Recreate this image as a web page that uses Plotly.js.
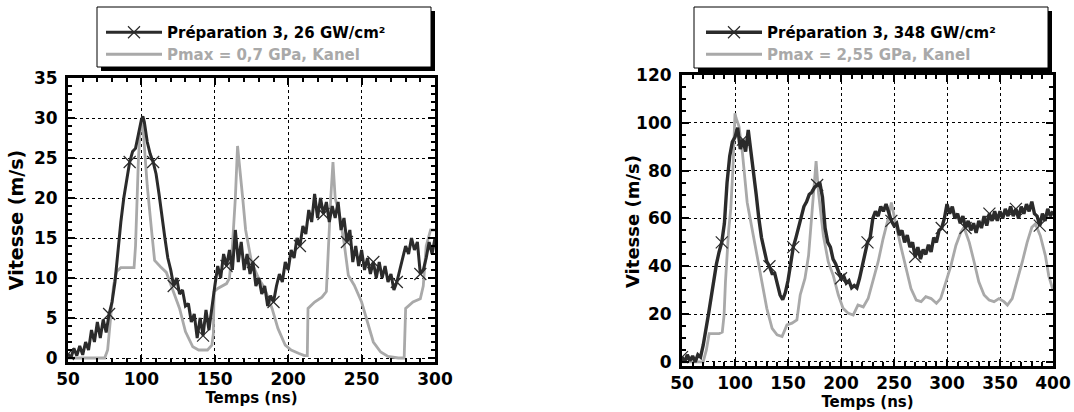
<!DOCTYPE html>
<html>
<head>
<meta charset="utf-8">
<script src="https://cdn.plot.ly/plotly-3.0.1.min.js"></script>
<style>
html,body{margin:0;padding:0;background:#fff;}
#chart{width:1074px;height:412px;}
</style>
</head>
<body>
<div id="chart"></div>
<script>
// ---------- Left panel: Préparation 3, 26 GW/cm² ----------
const leftExpX = [50,52,54,56,58,60,62,64,66,68,70,72,74,76,78,80,82,84,86,88,90,92,94,96,98,100,101,102,104,106,108,110,112,114,116,118,120,122,124,126,128,130,132,134,136,138,140,142,144,146,148,150,152,154,156,158,160,162,164,166,168,170,172,174,176,178,180,182,184,186,188,190,192,194,196,198,200,202,204,206,208,210,212,214,216,218,220,222,224,226,228,230,232,234,236,238,240,242,244,246,248,250,252,254,256,258,260,262,264,266,268,270,272,274,276,278,280,282,284,286,288,290,292,294,296,298,300];
const leftExpY = [0.5,0,1.2,0.3,1.5,0.4,2,1,3.5,2,4.5,2.5,4.8,3.2,5.5,7,9.5,13.5,17,20,22.5,24.5,25.8,26.2,28,29.8,30.2,29.5,27,25.5,24.5,23,20.5,17.5,15,12.5,11,9,10,8,8.5,6.5,6.8,4.5,5.5,2.5,5,2.8,6,3.5,6.5,9,11.5,10,13,11.5,13.5,11,16,12,14.5,11,13,10.5,12,9,10,8,9,6.5,7.8,7,9,10.5,9.5,12,11,13.5,12.5,15,14,16.5,15.5,18.5,17,20.5,17.5,20,18,19.5,17,19,17.5,19.5,16,17.5,14.5,16,12,14,11.5,13.5,11,12.5,10.5,12,10,12,10,11.5,9.5,10.5,8.5,9.5,11,12.5,14,13,15,13.5,14.5,10.5,11,12.5,14.5,13,15];
const leftMarkX = [50,78,92,108,122,142,158,176,190,208,224,240,258,274,290];

const leftKanelX = [50,60,70,75,77,79,81,83,86,90,95,96,97,98,99,100,101,102,104,107,109,113,117,121,126,130,135,139,145,148,149,149.5,152,158,160,162,164,165.5,167,169,171,175,180,184,189,193,198,202,207,211,213,213.5,218,223,226,227,229,230.5,232,235,238,241,245,250,254,258,263,268,275,279,280,285,290,292,294,297,300];
const leftKanelY = [0,0,0,0,1,5,9,10.8,11.3,11.3,11.3,14,20,25,28,29.5,29,26,21.5,15.8,12.2,11.4,10.7,8.7,6.2,3.3,1.4,1,1,1.6,3,8.3,8.7,9.3,10,14,20,26.5,24,20,16,12,9.9,8.7,6.2,3.7,1.6,1,0.6,0.3,0.3,6.2,7,7.6,8.3,13,20,24.5,20,17.8,14.5,10.3,9.1,7,4.5,2,0.75,0.2,0,0,6.2,7,7.4,9,14,16,16];

// ---------- Right panel: Préparation 3, 348 GW/cm² ----------
const rightExpX = [50,52.5,55,57.5,60,62.5,65,67.5,70,72.5,75,77.5,80,82.5,85,87.5,90,92.5,95,97.5,100,102.5,105,107.5,110,112.5,115,117.5,120,122.5,125,127.5,130,132.5,135,137.5,140,142.5,145,147.5,150,152.5,155,157.5,160,162.5,165,167.5,170,172.5,175,177.5,180,182.5,185,187.5,190,192.5,195,197.5,200,202.5,205,207.5,210,212.5,215,217.5,220,222.5,225,227.5,230,232.5,235,237.5,240,242.5,245,247.5,250,252.5,255,257.5,260,262.5,265,267.5,270,272.5,275,277.5,280,282.5,285,287.5,290,292.5,295,297.5,300,302.5,305,307.5,310,312.5,315,317.5,320,322.5,325,327.5,330,332.5,335,337.5,340,342.5,345,347.5,350,352.5,355,357.5,360,362.5,365,367.5,370,372.5,375,377.5,380,382.5,385,387.5,390,392.5,395,397.5,400];
const rightExpY = [2,0,3,0.5,2.5,0,3,2,7,13,20,27,35,41,46,50,58,75,86,92,94,98,89,93,88,97,88,80,70,60,52,47,42,40,37,37,33,28,26,29,34,42,48,52,56,60,65,67,70,71,73,74,75,69,56,50,48,43,41,38,35,36,33,34,31,32,31,35,40,46,50,52,60,63,61,65,63,66,62,59,57,58,53,55,50,53,48,50,44,48,43,47,45,49,46,52,50,55,56,60,66,62,65,60,62,58,61,56,59,55,58,54,59,56,61,57,62,59,63,59,63,60,64,61,65,61,64,60,65,62,66,63,67,62,61,57,62,59,64,61,63];
const rightMarkX = [50,87.5,107.5,132.5,155,177.5,200,225,247.5,270,295,317.5,340,365,387.5];

const rightKanelX = [50,60,70,73,75.6,80,85,88,89.7,91,92.5,94,96,98,100,101,103.75,107,111.5,116,121,125.6,130,135,139.7,144.4,149,153.75,158.4,161.5,166,169.4,172.5,175.6,176.5,178.75,183.4,188,192.8,197.5,202,207,211.5,216,221,225.6,230,235,239.7,244.4,247.5,249.5,252,257,261.5,266,271,275.6,280,285,290,294,299,303.75,308.4,313,316,321,325.6,330,335,339.7,344.4,349,353.75,357,361.5,366,371,375.6,380,383.4,388,392.8,396,400];
const rightKanelY = [0,0,0,5,11.8,11.8,11.8,12.5,19.6,33.5,44.5,55,64,80.5,104,102,98.5,87.4,66.7,55.6,44.5,33.5,22.4,14,11.3,10.6,15.5,16.2,17.6,28,34.9,44.5,62.5,80.5,84,70.8,52.8,41.8,36,28,22.4,20.3,19.6,23.8,23,26.5,33.5,41.8,51.5,59.7,66.7,62,57,47.3,39,30.7,25.9,25.2,27.3,26.5,24.5,26.5,33.5,40.4,48.7,54.2,56.3,50,41.8,33.5,28,25.9,25.2,26.5,25.2,23.8,26.5,33.5,41.8,50,56.3,57.7,52.8,44.5,36,30];

// ---------- labels ----------
const leftExpName = "Préparation 3, 26 GW/cm²";
const leftKanelName = "Pmax = 0,7 GPa, Kanel";
const rightExpName = "Préparation 3, 348 GW/cm²";
const rightKanelName = "Pmax = 2,55 GPa, Kanel";
const xTitle = "Temps (ns)";
const yTitle = "Vitesse (m/s)";

// ---------- styles ----------
const DARK = "#2b2b2b";
const GRAY = "#a9a9a9";
const FONT = "DejaVu Sans, Liberation Sans, Arial, sans-serif";

function markColors(xs, marks) {
  return xs.map(x => marks.indexOf(x) >= 0 ? DARK : "rgba(0,0,0,0)");
}

function expTrace(xs, ys, marks, name, xa, ya, leg, w) {
  const cols = markColors(xs, marks);
  return {
    x: xs, y: ys, name: name, type: "scatter", mode: "lines+markers",
    xaxis: xa, yaxis: ya, legend: leg,
    line: {color: DARK, width: w},
    marker: {symbol: "x-thin-open", size: 12, color: cols, line: {color: cols, width: 1.2}},
    hoverinfo: "x+y"
  };
}
function kanelTrace(xs, ys, name, xa, ya, leg) {
  return {
    x: xs, y: ys, name: '<span style="color:' + GRAY + '">' + name + '</span>',
    type: "scatter", mode: "lines", xaxis: xa, yaxis: ya, legend: leg,
    line: {color: GRAY, width: 2.8}, hoverinfo: "x+y"
  };
}

const data = [
  kanelTrace(leftKanelX, leftKanelY, leftKanelName, "x", "y", "legend2"),
  expTrace(leftExpX, leftExpY, leftMarkX, leftExpName, "x", "y", "legend", 3),
  kanelTrace(rightKanelX, rightKanelY, rightKanelName, "x2", "y2", "legend4"),
  expTrace(rightExpX, rightExpY, rightMarkX, rightExpName, "x2", "y2", "legend3", 3.4)
];

const W = 1074, H = 412;
const px = v => v / W;
const py = v => 1 - v / H;

function axisBase(extra) {
  return Object.assign({
    showline: true, linewidth: 3, linecolor: "#000", mirror: "allticks",
    ticks: "inside", ticklen: 7, tickwidth: 2, tickcolor: "#000",
    showgrid: true, gridcolor: "#000", gridwidth: 1, griddash: "dot",
    zeroline: false, fixedrange: true,
    tickfont: {family: FONT, size: 17, color: "#000", weight: "bold"}
  }, extra);
}
const minorX = {dtick: 10, ticks: "inside", ticklen: 4, tickwidth: 2, tickcolor: "#000", showgrid: false};

const titleFontX = {family: FONT, size: 15, color: "#000", weight: "bold"};
const titleFontYL = {family: FONT, size: 19, color: "#000", weight: "bold"};
const titleFontYR = {family: FONT, size: 18, color: "#000", weight: "bold"};

const legendBase = {
  bgcolor: "rgba(0,0,0,0)", borderwidth: 0,
  font: {family: FONT, size: 15, color: "#000", weight: "bold"},
  xanchor: "left", yanchor: "top", itemwidth: 56
};

function legendBox(x0, y0, x1, y1) {
  return [
    {type: "rect", xref: "paper", yref: "paper", x0: px(x0 + 4), x1: px(x1 + 4), y0: py(y1 + 4), y1: py(y0 + 4),
     fillcolor: "#000", line: {width: 0}, layer: "above"},
    {type: "rect", xref: "paper", yref: "paper", x0: px(x0), x1: px(x1), y0: py(y1), y1: py(y0),
     fillcolor: "#fff", line: {color: "#000", width: 1}, layer: "above"}
  ];
}

const layout = {
  width: W, height: H,
  margin: {l: 0, r: 0, t: 0, b: 0},
  paper_bgcolor: "#fff", plot_bgcolor: "#fff",
  showlegend: true,
  xaxis: axisBase({domain: [px(68), px(435)], range: [50, 300], tick0: 50, dtick: 50,
    minor: minorX, ticklabelstandoff: 0,
    title: {text: xTitle, font: titleFontX, standoff: 4}, anchor: "y"}),
  yaxis: axisBase({domain: [1 - 362 / H, 1 - 78 / H], range: [-0.5, 35], tick0: 0, dtick: 5,
    minor: {dtick: 1, ticks: "inside", ticklen: 4, tickwidth: 2, tickcolor: "#000", showgrid: false},
    ticklabelstandoff: 4,
    title: {text: yTitle, font: titleFontYL, standoff: 6}, anchor: "x"}),
  xaxis2: axisBase({domain: [px(682), px(1053)], range: [50, 400], tick0: 50, dtick: 50,
    minor: minorX, ticklabelstandoff: 0,
    title: {text: xTitle, font: titleFontX, standoff: 4}, anchor: "y2"}),
  yaxis2: axisBase({domain: [1 - 366 / H, 1 - 75 / H], range: [-1.7, 120], tick0: 0, dtick: 20,
    minor: {dtick: 5, ticks: "inside", ticklen: 4, tickwidth: 2, tickcolor: "#000", showgrid: false},
    ticklabelstandoff: 4, anchor: "x2"}),
  legend: Object.assign({}, legendBase, {x: px(101), y: py(16)}),
  legend2: Object.assign({}, legendBase, {x: px(101), y: py(38)}),
  legend3: Object.assign({}, legendBase, {x: px(701), y: py(16)}),
  legend4: Object.assign({}, legendBase, {x: px(701), y: py(38)}),
  shapes: [].concat(legendBox(97, 7, 431, 67), legendBox(694, 7, 1048, 68)),
  annotations: [
    {text: yTitle, xref: "paper", yref: "paper", x: px(632), y: py(222), textangle: -90,
     showarrow: false, xanchor: "center", yanchor: "middle", font: titleFontYR}
  ]
};

Plotly.newPlot("chart", data, layout, {displayModeBar: false, staticPlot: true});
</script>
</body>
</html>
